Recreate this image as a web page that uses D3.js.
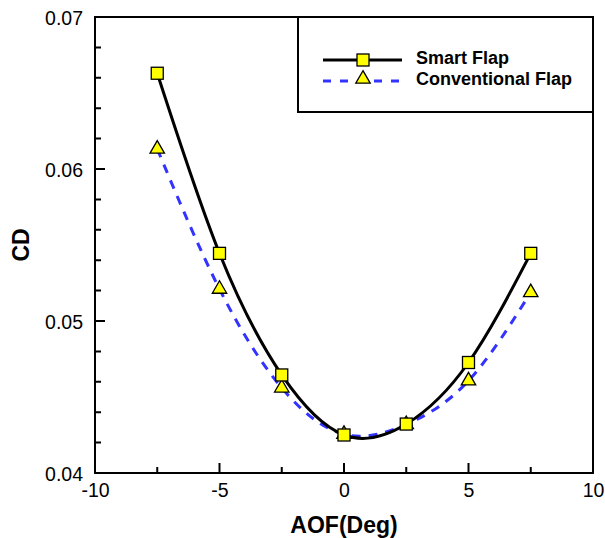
<!DOCTYPE html>
<html>
<head>
<meta charset="utf-8">
<script src="https://cdn.jsdelivr.net/npm/d3@7"></script>
<style>
  html, body { margin: 0; padding: 0; background: #fff; }
  svg text { font-family: "Liberation Sans", Arial, sans-serif; }
</style>
</head>
<body>
<svg id="chart" width="605" height="538"></svg>
<script>
// Flap deflection angle (deg)
const aof = [-7.5, -5, -2.5, 0, 2.5, 5, 7.5];
// Drag coefficient for each flap type
const smartFlap = [0.0663, 0.05445, 0.04645, 0.0425, 0.04322, 0.04727, 0.05445];
const conventionalFlap = [0.06132, 0.0521, 0.0456, 0.04255, 0.0432, 0.04607, 0.05188];
const xTicks = [-10, -5, 0, 5, 10];
const xMinorTicks = [-7.5, -2.5, 2.5, 7.5];
const yTicks = [0.04, 0.05, 0.06, 0.07];
const yMinorTicks = [0.042, 0.044, 0.046, 0.048, 0.052, 0.054, 0.056, 0.058, 0.062, 0.064, 0.066, 0.068];
const seriesNames = ["Smart Flap", "Conventional Flap"];

const svg = d3.select("#chart");
const m = { left: 95, right: 593, top: 17, bottom: 473 };

const x = d3.scaleLinear().domain([-10, 10]).range([m.left, m.right]);
const y = d3.scaleLinear().domain([0.04, 0.07]).range([m.bottom, m.top]);

const hyphen = f => d => f(d).replace("\u2212", "-");

function styleAxis(sel) {
  sel.select(".domain").remove();
  sel.selectAll(".tick text").attr("font-size", 19.5).attr("fill", "#000")
    .attr("font-family", "'Liberation Sans', Arial, sans-serif");
}

// Tick labels from the library axes
svg.append("g").attr("transform", `translate(0,${m.bottom})`)
  .call(d3.axisBottom(x).tickValues(xTicks).tickSize(0).tickPadding(10).tickFormat(hyphen(d3.format("d"))))
  .call(styleAxis);
svg.append("g").attr("transform", `translate(${m.left},1)`)
  .call(d3.axisLeft(y).tickValues(yTicks).tickSize(0).tickPadding(12).tickFormat(d3.format(".2f")))
  .call(styleAxis);

// Inward-pointing tick marks drawn as one path
const tp = d3.path();
xTicks.forEach(v => { tp.moveTo(x(v), m.bottom); tp.lineTo(x(v), m.bottom - 10); });
xMinorTicks.forEach(v => { tp.moveTo(x(v), m.bottom); tp.lineTo(x(v), m.bottom - 6); });
yTicks.forEach(v => { tp.moveTo(m.left, y(v)); tp.lineTo(m.left + 10, y(v)); });
yMinorTicks.forEach(v => { tp.moveTo(m.left, y(v)); tp.lineTo(m.left + 6, y(v)); });
svg.append("path").attr("d", tp.toString()).attr("fill", "none")
  .attr("stroke", "#000").attr("stroke-width", 2);

// Axis titles
svg.append("text").attr("x", (m.left + m.right) / 2).attr("y", 533)
  .attr("text-anchor", "middle").attr("font-size", 23).attr("font-weight", "bold").text("AOF(Deg)");
svg.append("text").attr("transform", `translate(29,${(m.top + m.bottom) / 2}) rotate(-90)`)
  .attr("text-anchor", "middle").attr("font-size", 23).attr("font-weight", "bold").text("CD");

// Curves
const line = vals => d3.line().x((d, i) => x(aof[i])).y(d => y(d)).curve(d3.curveNatural)(vals);
svg.append("path").attr("d", line(conventionalFlap)).attr("fill", "none")
  .attr("stroke", "#3333ff").attr("stroke-width", 3).attr("stroke-dasharray", "9,8");
svg.append("path").attr("d", line(smartFlap)).attr("fill", "none")
  .attr("stroke", "#000").attr("stroke-width", 3);

// Markers
const sq = 12;
const tri = d3.symbol().type(d3.symbolTriangle).size(90);
svg.selectAll(".tri").data(conventionalFlap).join("path")
  .attr("d", tri).attr("transform", (d, i) => `translate(${x(aof[i])},${y(d)})`)
  .attr("fill", "#ffff00").attr("stroke", "#000").attr("stroke-width", 1.3);
svg.selectAll(".sq").data(smartFlap).join("rect")
  .attr("x", (d, i) => x(aof[i]) - sq / 2).attr("y", d => y(d) - sq / 2)
  .attr("width", sq).attr("height", sq)
  .attr("fill", "#ffff00").attr("stroke", "#000").attr("stroke-width", 1.3);

// Frame
svg.append("rect").attr("x", m.left).attr("y", m.top)
  .attr("width", m.right - m.left).attr("height", m.bottom - m.top)
  .attr("fill", "none").attr("stroke", "#000").attr("stroke-width", 2);

// Legend
const lg = svg.append("g");
lg.append("rect").attr("x", 298).attr("y", m.top).attr("width", m.right - 298).attr("height", 95)
  .attr("fill", "#fff").attr("stroke", "#000").attr("stroke-width", 2);
lg.append("line").attr("x1", 323).attr("x2", 402).attr("y1", 60).attr("y2", 60)
  .attr("stroke", "#000").attr("stroke-width", 3);
lg.append("rect").attr("x", 363 - sq / 2).attr("y", 60 - sq / 2).attr("width", sq).attr("height", sq)
  .attr("fill", "#ffff00").attr("stroke", "#000").attr("stroke-width", 1.3);
lg.append("line").attr("x1", 323).attr("x2", 402).attr("y1", 81).attr("y2", 81)
  .attr("stroke", "#3333ff").attr("stroke-width", 3).attr("stroke-dasharray", "8,9");
lg.append("path").attr("d", tri).attr("transform", "translate(363,79)")
  .attr("fill", "#ffff00").attr("stroke", "#000").attr("stroke-width", 1.3);
lg.selectAll(".lt").data(seriesNames).join("text")
  .attr("x", 416).attr("y", (d, i) => 64 + i * 21)
  .attr("font-size", 18).attr("font-weight", "bold").text(d => d);
</script>
</body>
</html>
